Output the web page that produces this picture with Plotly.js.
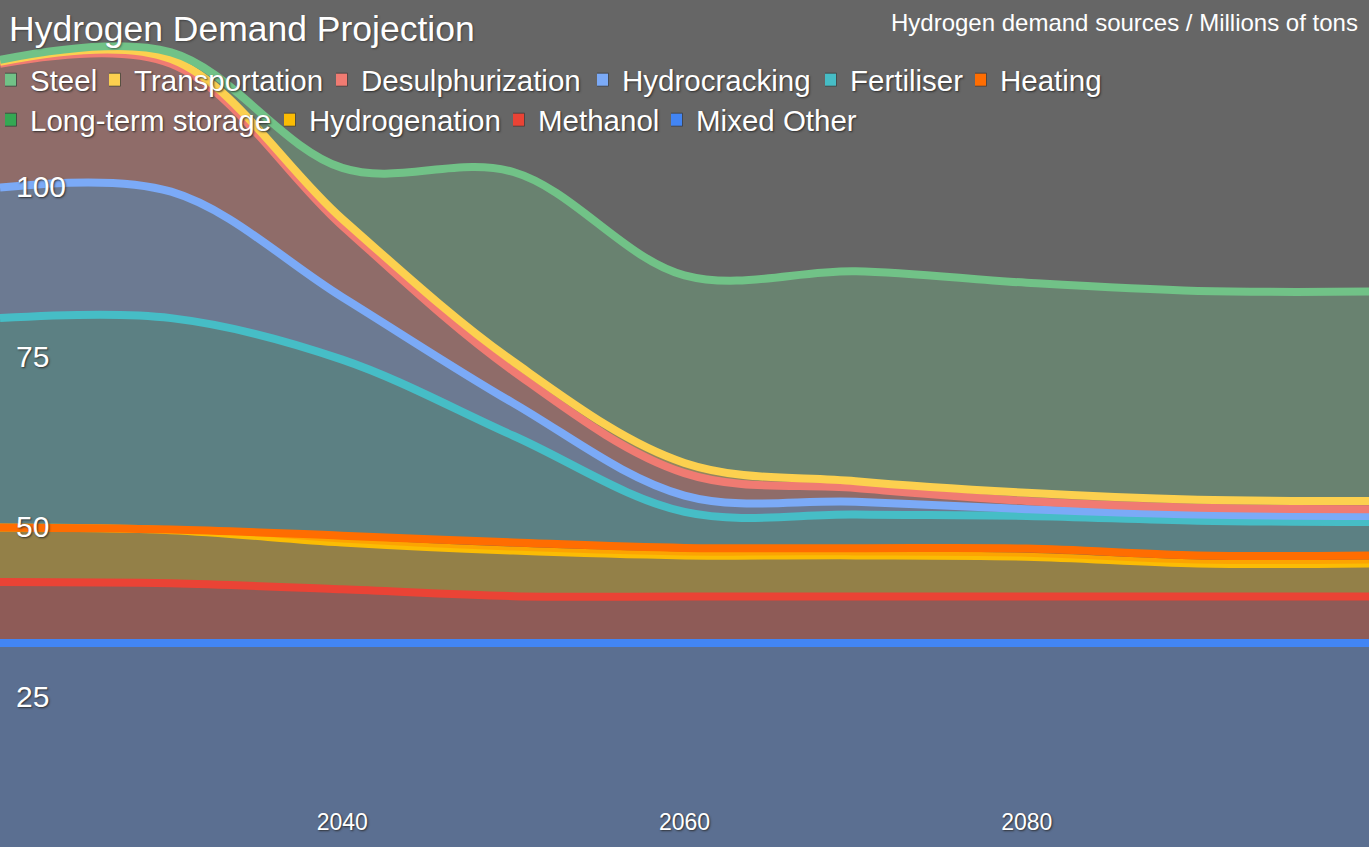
<!DOCTYPE html>
<html>
<head>
<meta charset="utf-8">
<script src="https://cdn.plot.ly/plotly-3.0.1.min.js"></script>
<style>
  html, body { margin: 0; padding: 0; background: #666666; }
  #chart { width: 1369px; height: 847px; }
</style>
</head>
<body>
<div id="chart"></div>
<script>
// ---- Data (millions of tons, stacked bottom to top) ----
const years = [2020, 2030, 2040, 2050, 2060, 2070, 2080, 2090, 2100];
const mixedOther       = [32.9, 32.9, 32.9, 32.9, 32.9, 32.9, 32.9, 32.9, 32.9];
const methanol         = [9.0, 8.8, 7.9, 6.9, 6.85, 6.85, 6.85, 6.85, 6.85];
const hydrogenation    = [8.0, 7.8, 6.9, 6.7, 6.05, 6.05, 5.85, 4.85, 4.85];
const longTermStorage  = [0, 0, 0, 0, 0, 0, 0, 0, 0];
const heating          = [0.0, 0.1, 1.0, 1.2, 1.1, 1.05, 1.2, 1.2, 1.2];
const fertiliser       = [30.8, 31.1, 25.9, 15.7, 5.3, 4.95, 4.8, 5.1, 4.9];
const hydrocracking    = [19.2, 18.6, 9.2, 4.8, 2.4, 1.9, 1.0, 0.9, 0.9];
const desulphurization = [18.2, 18.8, 10.5, 4.7, 3.3, 2.0, 1.2, 1.0, 1.0];
const transportation   = [0.3, 0.7, 1.0, 1.4, 1.5, 1.0, 1.2, 1.2, 1.2];
const steel            = [0.3, 1.0, 7.5, 27.9, 27.6, 30.9, 30.9, 30.7, 30.8];

const yTicks = [25, 50, 75, 100];
const xTicks = [2040, 2060, 2080];

const titleText = 'Hydrogen Demand Projection';
const subtitleText = 'Hydrogen demand sources / Millions of tons';

// stack order (bottom -> top)
const stackNames = ['Mixed Other', 'Methanol', 'Hydrogenation', 'Long-term storage', 'Heating',
                    'Fertiliser', 'Hydrocracking', 'Desulphurization', 'Transportation', 'Steel'];
const stackValues = [mixedOther, methanol, hydrogenation, longTermStorage, heating,
                     fertiliser, hydrocracking, desulphurization, transportation, steel];
// legend order (row 1, row 2)
const legendRow1 = ['Steel', 'Transportation', 'Desulphurization', 'Hydrocracking', 'Fertiliser', 'Heating'];
const legendRow2 = ['Long-term storage', 'Hydrogenation', 'Methanol', 'Mixed Other'];

// ---- Styles ----
const colors = {
  'Mixed Other': '#4285F4', 'Methanol': '#EA4335', 'Hydrogenation': '#FBBC04',
  'Long-term storage': '#34A853', 'Heating': '#FF6D01', 'Fertiliser': '#46BDC6',
  'Hydrocracking': '#7BAAF7', 'Desulphurization': '#F07B72', 'Transportation': '#FCD04F',
  'Steel': '#71C287'
};
// pixel x where each legend label's text starts, per row
const legendTextX1 = [28, 132, 359, 620, 848, 998];
const legendTextX2 = [28, 307, 536, 694];
const legendRowY = [80, 120];

function rgba(hex, a) {
  const n = parseInt(hex.slice(1), 16);
  return 'rgba(' + ((n >> 16) & 255) + ',' + ((n >> 8) & 255) + ',' + (n & 255) + ',' + a + ')';
}
const FONT = 'Liberation Sans, Arial, sans-serif';
const SHADOW = '1px 1px 2px rgba(40,40,40,0.9)';
const H = 847, W = 1369;

const traces = [];
stackNames.forEach(function (name, i) {
  traces.push({
    type: 'scatter', mode: 'lines', name: name,
    x: years, y: stackValues[i],
    stackgroup: 'one',
    line: { color: colors[name], width: name === 'Long-term storage' ? 0 : 8, shape: 'spline', smoothing: 1 },
    fillcolor: rgba(colors[name], 0.3),
    showlegend: false, legendgroup: name,
    hoverinfo: 'x+y+name'
  });
});

const layout = {
  width: W, height: H,
  margin: { l: 0, r: 0, t: 0, b: 0, pad: 0 },
  paper_bgcolor: '#666666', plot_bgcolor: '#666666',
  font: { family: FONT, color: '#ffffff' },
  title: {
    text: titleText, xref: 'paper', x: 0, xanchor: 'left', yref: 'container', y: 1 - 29 / H, yanchor: 'middle',
    pad: { l: 9 }, font: { family: FONT, size: 35.5, color: '#ffffff', shadow: '1px 1px 2px rgba(40,40,40,0.6)' }
  },
  annotations: [{
    text: subtitleText, xref: 'paper', yref: 'paper', x: 1360 / W, y: 1 - 22 / H,
    xanchor: 'right', yanchor: 'middle', showarrow: false,
    font: { family: FONT, size: 24, color: '#ffffff' }
  }],
  xaxis: {
    range: [2020, 2100], tickvals: xTicks, ticktext: xTicks.map(String),
    ticklabelposition: 'inside', ticklabelstandoff: 9, ticks: '', showgrid: false, zeroline: false, showline: false,
    tickfont: { family: FONT, size: 23, color: '#ffffff', shadow: SHADOW }, fixedrange: true
  },
  yaxis: {
    range: [2.9, 127.5], tickvals: yTicks, ticktext: yTicks.map(String),
    ticklabelposition: 'inside', ticklabelstandoff: 13, ticks: '', showgrid: false, zeroline: false, showline: false,
    tickfont: { family: FONT, size: 30, color: '#ffffff', shadow: SHADOW }, fixedrange: true
  },
  showlegend: true
};

// one small legend per entry so each label sits where the reference puts it
let legendIdx = 0;
function addLegendEntry(name, textX, rowY) {
  legendIdx += 1;
  const id = legendIdx === 1 ? 'legend' : 'legend' + legendIdx;
  traces.push({
    type: 'scatter', mode: 'markers', name: name,
    x: [null], y: [null], legend: id, legendgroup: name,
    marker: { symbol: 'square', size: 13, color: colors[name], line: { color: 'rgba(60,60,60,0.8)', width: 1 } },
    showlegend: true, hoverinfo: 'skip'
  });
  layout[id] = {
    orientation: 'h', xref: 'paper', yref: 'paper', xanchor: 'left', yanchor: 'middle',
    x: (textX - 23) / W, y: 1 - rowY / H,
    bgcolor: 'rgba(0,0,0,0)', borderwidth: 0, itemwidth: 30, indentation: -15,
    font: { family: FONT, size: 29.5, color: '#ffffff', shadow: SHADOW }
  };
}
legendRow1.forEach(function (n, i) { addLegendEntry(n, legendTextX1[i], legendRowY[0]); });
legendRow2.forEach(function (n, i) { addLegendEntry(n, legendTextX2[i], legendRowY[1]); });

Plotly.newPlot('chart', traces, layout, { displayModeBar: false, responsive: false });
</script>
</body>
</html>
